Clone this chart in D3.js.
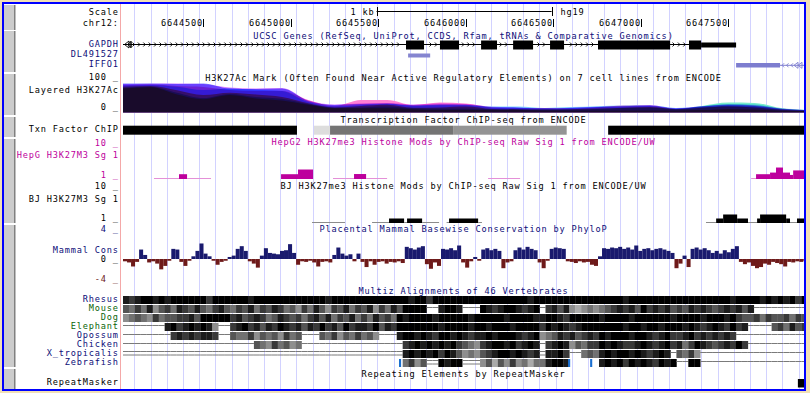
<!DOCTYPE html>
<meta charset="utf-8">
<style>
body { margin: 0; background: #f2e0b5; }
svg { display: block; }
text { font-family: "DejaVu Sans Mono", monospace; font-size: 8.6px; letter-spacing: 0.83px; }
</style>
<svg width="810" height="393"></svg>
<script src="https://d3js.org/d3.v7.min.js"></script>
<script>

// ---- data ----
var viewStart = 6644041, viewEnd = 6647932;
var rulerTicks = [6644500, 6645000, 6645500, 6646000, 6646500, 6647000, 6647500];
var scaleBar = [6645490, 6646490];

var gapdhExons = [[6645658, 6645761], [6645852, 6645961], [6646087, 6646178], [6646270, 6646384],
                  [6646481, 6646561], [6646755, 6647167], [6647275, 6647344]];
var gapdhUtr = [[6647344, 6647544]];
var gapdhSpan = [6644041, 6647275];
var dl491527 = [6645670, 6645796];
var iffo1Utr = [6647544, 6647795];
var iffo1Span = [6647795, 6647932];

var acPos = [6644041, 6644200, 6644350, 6644500, 6644650, 6644800, 6644950, 6645100, 6645250,
             6645400, 6645550, 6645700, 6645850, 6646000, 6646150, 6646300, 6646450, 6646600,
             6646750, 6646900, 6647050, 6647200, 6647350, 6647500, 6647650, 6647800, 6647950];
var acGM12878 = [86, 88, 74, 58, 66, 60, 52, 31, 17, 22, 26, 16, 17, 20, 12, 11, 10, 11, 13, 16, 18, 11, 16, 20, 17, 9, 6];
var acH1      = [80, 84, 60, 44, 58, 47, 40, 26, 14, 14, 14, 11, 9, 9, 8, 8, 7, 7, 7, 7, 7, 7, 8, 12, 10, 6, 5];
var acHSMM    = [82, 86, 66, 48, 62, 52, 46, 28, 16, 17, 20, 14, 13, 13, 11, 11, 10, 10, 12, 15, 16, 12, 22, 33, 32, 15, 9];
var acHUVEC   = [90, 92, 86, 75, 80, 76, 72, 35, 20, 24, 28, 22, 24, 24, 20, 20, 15, 18, 21, 23, 24, 15, 21, 28, 27, 13, 8];
var acK562    = [97, 97, 95, 97, 80, 78, 80, 38, 25, 28, 30, 24, 27, 26, 17, 16, 13, 15, 18, 20, 22, 13, 20, 25, 22, 12, 8];
var acNHEK    = [95, 96, 97, 95, 83, 80, 82, 40, 27, 30, 32, 27, 30, 28, 19, 17, 14, 16, 19, 21, 25, 14, 21, 27, 24, 13, 8];
var acNHLF    = [91, 93, 88, 85, 75, 72, 72, 42, 22, 42, 42, 25, 33, 30, 17, 14, 15, 13, 17, 23, 23, 12, 18, 22, 20, 11, 7];

var tfSegments = [[6644041, 6645035, "#000000"], [6645132, 6645224, "#dddddd"], [6645224, 6645927, "#747474"],
                  [6645927, 6646576, "#949494"], [6646813, 6647932, "#000000"]];

var hepgSignal = [[6644218, 6644361, 0.6], [6644361, 6644407, 2.05], [6644407, 6644544, 0.6],
                  [6644944, 6645041, 2.05], [6645041, 6645127, 3.35],
                  [6645241, 6645361, 0.6], [6645361, 6645430, 2.1], [6645430, 6645550, 0.6],
                  [6646127, 6646310, 0.6],
                  [6647630, 6647658, 0.6], [6647658, 6647738, 2.05], [6647738, 6647772, 2.5], [6647772, 6647812, 3.9],
                  [6647812, 6647852, 2.5], [6647852, 6647870, 1.85], [6647870, 6647932, 3.1]];

var bjSignal = [[6645121, 6645310, 0.6],
                [6645464, 6645561, 0.6], [6645561, 6645647, 1.97], [6645647, 6645664, 0.6], [6645664, 6645750, 1.97], [6645750, 6645847, 0.6],
                [6645890, 6645904, 0.6], [6645904, 6646070, 1.97], [6646070, 6646092, 0.6],
                [6647372, 6647430, 0.6], [6647430, 6647470, 1.97], [6647470, 6647550, 3.08], [6647550, 6647612, 1.97],
                [6647612, 6647664, 0.6], [6647664, 6647681, 1.97], [6647681, 6647830, 3.08], [6647830, 6647852, 1.97],
                [6647852, 6647892, 0.6], [6647892, 6647932, 1.97]];

var consStart = 6644041, consStep = 23;
var consValues = [
  -0.4, -0.6, -1.3, -0.5, 1.4, 0.6, -0.6, -0.4, -0.8, -1.8,
  -1.2, -0.3, 1.5, 1.4, -0.5, -1.2, -0.3, 0.4, 1.2, 2.3,
  0.8, 0.4, -0.3, -1.0, -0.5, -0.3, 0.3, 0.5, 1.5, 1.9,
  1.2, -0.4, -0.8, -1.5, 0.5, 1.6, 0.9, 0.8, 0.7, 1.2,
  1.3, 2.2, 0.9, -1.0, -0.4, -0.5, -0.3, -0.6, -1.3, -0.5,
  -0.4, -0.6, 0.6, 1.7, 0.8, 0.5, 0.7, -0.4, 0.8, -0.5,
  -1.4, -0.4, -1.0, -0.5, -0.4, -0.8, -0.5, -0.6, -0.4, -0.7,
  1.8, 1.6, 1.4, 1.7, 1.9, -0.9, -1.7, -0.6, -1.2, 1.5,
  1.4, 1.6, 1.3, 2.0, -0.6, -1.5, -0.4, 0.3, -0.3, 1.4,
  1.6, 1.3, 1.5, 1.2, -1.6, -0.6, -0.4, 1.3, 1.7, 1.4,
  1.8, 1.5, 1.3, -0.6, -1.6, -0.3, 1.5, 1.7, 1.6, 1.5,
  -0.4, -0.5, -0.7, -0.4, -0.6, -0.5, -1.0, -1.2, 0.4, 1.6,
  1.5, 1.7, 1.6, 1.8, 1.5, 1.7, 1.4, 2.0, 1.2, 1.5,
  1.6, 1.3, 1.5, 1.6, 1.4, 1.2, 0.9, -1.6, -0.8, 0.5,
  -1.4, 1.5, 1.7, 1.4, 1.6, 1.3, 0.9, 1.2, 0.8, 1.3,
  1.0, 1.5, 1.9, -0.5, -0.9, -0.6, -1.2, -1.6, -1.4, -0.8,
  -1.0, -0.5, -0.7, -0.9, -1.3, -0.5, -0.6, -0.4, -0.5, -0.3];

// multiz: one char per 34 bp bin; 1-9 = alignment darkness, "-" gap line, "=" double line, "." nothing
var multizStart = 6644041, multizBin = 34;
var species = ["Rhesus", "Mouse", "Dog", "Elephant", "Opossum", "Chicken", "X_tropicalis", "Zebrafish"];
var speciesColors = ["#0c0c78", "#0a640a", "#0a640a", "#0a640a", "#0c0c78", "#0c0c78", "#0c0c78", "#0c0c78"];
var multizRows = [
  "8789989899" + "9999799999" + "9899999999" + "9999899999" + "9999999989" + "9799999999" + "9999999989" + "9999999999" + "9999899999" + "9999999999" + "9989999898" + "98979",
  "6575846758" + "7686578657" + "6857687564" + "7586476857" + "6847586999" + "9--8998---" + "9878998789" + "-786843454" + "5678786978" + "7867687876" + "787868----" + "-----",
  "4565475667" + "7869999978" + "6787568767" + "5786857685" + "7586759899" + "9989999989" + "9999899998" + "8998799999" + "8999989999" + "9989999899" + "9897667576" + "67576",
  "-------897" + "898984--78" + "9786879878" + "6879786978" + "8796879999" + "9998999989" + "9899989999" + "7989878999" + "9999899899" + "8999898789" + "87978----6" + "75867",
  "--------78" + "787887--65" + "5746564756" + "---6574657" + "564---8998" + "9879989878" + "8989998789" + "4568786787" + "9899989987" + "8977897878" + "787-------" + "-----",
  "----------" + "----------" + "--65475645" + "----------" + "-------789" + "8989897654" + "7899897898" + "-789846577" + "9898778987" + "8978579876" + "78797-----" + "-----",
  "==========" + "==========" + "==========" + "==========" + "=======898" + "9897986454" + "6789989878" + "=8897--565" + "8989989878" + "98-6574---" + "----------" + "-----",
  ".........." + ".........." + ".........." + ".........." + ".......574" + "6==9899===" + "4636474535" + "58998....." + "8989798987" + "989--99---" + "----------" + "-----"];
var zebrafishMarks = [[6645618, 6645630], [6646584, 6646596], [6646710, 6646722]];

var repeats = [[6647897, 6647932]];

// ---- drawing ----
var svg = d3.select("svg");
var left = 123, right = 804, mid = 463.5, labelX = 118.8;
var x = d3.scaleLinear().domain([viewStart, viewEnd]).range([left, right]);

svg.append("rect").attr("width", 810).attr("height", 393).attr("fill", "#f2e0b5");
svg.append("rect").attr("x", 3).attr("y", 3).attr("width", 802).attr("height", 387).attr("fill", "#fff");

svg.append("defs").append("clipPath").attr("id", "clip")
  .append("rect").attr("x", left).attr("y", 4).attr("width", right - left).attr("height", 385);

// guide lines
svg.append("g").selectAll("line").data(d3.range(134.3, right, 16.2)).enter().append("line")
    .attr("x1", function(d) { return Math.round(d) + 0.5; })
    .attr("x2", function(d) { return Math.round(d) + 0.5; })
    .attr("y1", 4).attr("y2", 389)
    .attr("stroke", "#d2d2ff");

svg.append("line").attr("x1", 120.5).attr("x2", 120.5).attr("y1", 4).attr("y2", 389).attr("stroke", "#f4a8a8");

// side buttons
var buttons = [[5, 30], [31, 72], [74, 115], [117, 137], [139, 223], [225, 367], [369, 389]];
buttons.forEach(function(b) {
  svg.append("rect").attr("x", 4).attr("y", b[0]).attr("width", 11).attr("height", b[1] - b[0]).attr("fill", "#cccccc");
  svg.append("rect").attr("x", 14).attr("y", b[0]).attr("width", 1.5).attr("height", b[1] - b[0]).attr("fill", "#808080");
});

svg.append("rect").attr("x", 3).attr("y", 3).attr("width", 802).attr("height", 387)
    .attr("fill", "none").attr("stroke", "#0000ff").attr("stroke-width", 2);

function label(txt, y, color) {
  svg.append("text").attr("x", labelX).attr("y", y).attr("text-anchor", "end")
     .attr("fill", color || "#000").text(txt);
}
function title(txt, y, color) {
  svg.append("text").attr("x", mid).attr("y", y).attr("text-anchor", "middle")
     .attr("fill", color || "#000").text(txt);
}

var data = svg.append("g").attr("clip-path", "url(#clip)");

// ruler
label("Scale", 15);
label("chr12:", 26);
svg.append("line").attr("x1", x(scaleBar[0])).attr("x2", x(scaleBar[1])).attr("y1", 11.5).attr("y2", 11.5).attr("stroke", "#000");
scaleBar.forEach(function(p) {
  svg.append("line").attr("x1", Math.round(x(p)) + 0.5).attr("x2", Math.round(x(p)) + 0.5).attr("y1", 7).attr("y2", 16).attr("stroke", "#000");
});
svg.append("text").attr("x", x(scaleBar[0]) - 2).attr("y", 15).attr("text-anchor", "end").text("1 kb");
svg.append("text").attr("x", x(scaleBar[1]) + 9).attr("y", 15).text("hg19");
rulerTicks.forEach(function(t) {
  var tx = Math.round(x(t)) + 0.5;
  svg.append("line").attr("x1", tx).attr("x2", tx).attr("y1", 19).attr("y2", 27).attr("stroke", "#000");
  svg.append("text").attr("x", tx - 0.5).attr("y", 26).attr("text-anchor", "end").text(d3.format("d")(t));
});

// genes
var navy = "#0c0c78";
title("UCSC Genes (RefSeq, UniProt, CCDS, Rfam, tRNAs & Comparative Genomics)", 38.5, navy);
label("GAPDH", 46.5, navy);
label("DL491527", 56.5, navy);
label("IFFO1", 66.5, navy);

var gy = 44.5;
data.append("line").attr("x1", x(gapdhSpan[0])).attr("x2", x(gapdhSpan[1])).attr("y1", gy).attr("y2", gy).attr("stroke", "#000");
var gapdhBlocks = gapdhExons.concat(gapdhUtr);
d3.range(134, x(gapdhSpan[1]), 5.4).forEach(function(cx) {
  var inside = gapdhBlocks.some(function(e) { return cx > x(e[0]) - 3 && cx < x(e[1]) + 3; });
  if (inside) return;
  data.append("path").attr("d", "M" + (cx - 1.5) + "," + (gy - 2) + "L" + (cx + 0.5) + "," + gy + "L" + (cx - 1.5) + "," + (gy + 2))
      .attr("fill", "none").attr("stroke", "#000").attr("stroke-width", 0.9);
});
// continuation marker at the left edge
data.append("path").attr("d", "M124.5,44.5L129,41L129,48Z M127.5,44.5L131,41.5L131,47.5Z")
    .attr("fill", "none").attr("stroke", "#000").attr("stroke-width", 0.9);
data.append("line").attr("x1", 131).attr("x2", 131).attr("y1", 41).attr("y2", 48).attr("stroke", "#000");
data.selectAll(".exon").data(gapdhExons).enter().append("rect")
    .attr("x", function(d) { return x(d[0]); }).attr("width", function(d) { return x(d[1]) - x(d[0]); })
    .attr("y", 40.5).attr("height", 9).attr("fill", "#000");
data.selectAll(".utr").data(gapdhUtr).enter().append("rect")
    .attr("x", function(d) { return x(d[0]); }).attr("width", function(d) { return x(d[1]) - x(d[0]); })
    .attr("y", 42.5).attr("height", 5).attr("fill", "#000");

data.append("rect").attr("x", x(dl491527[0])).attr("width", x(dl491527[1]) - x(dl491527[0]))
    .attr("y", 53.5).attr("height", 4).attr("fill", "#8585d0");

data.append("rect").attr("x", x(iffo1Utr[0])).attr("width", x(iffo1Utr[1]) - x(iffo1Utr[0]))
    .attr("y", 63).attr("height", 4.5).attr("fill", "#7d7dcf");
data.append("line").attr("x1", x(iffo1Span[0])).attr("x2", x(iffo1Span[1])).attr("y1", 65.3).attr("y2", 65.3).attr("stroke", "#7d7dcf");
d3.range(x(iffo1Span[0]) + 3, 794, 4.5).forEach(function(cx) {
  data.append("path").attr("d", "M" + (cx + 1) + "," + 63.3 + "L" + (cx - 1) + "," + 65.3 + "L" + (cx + 1) + "," + 67.3)
      .attr("fill", "none").attr("stroke", "#7d7dcf").attr("stroke-width", 0.9);
});
data.append("path").attr("d", "M794,65.3L798,62.3L798,68.3Z M798,65.3L802,62.3L802,68.3Z")
    .attr("fill", "none").attr("stroke", "#7d7dcf").attr("stroke-width", 0.9);

// layered H3K27Ac
label("100 _", 80);
label("Layered H3K27Ac", 93.3);
label("0 _", 110);
var yAc = d3.scaleLinear().domain([0, 100]).range([112.5, 82.5]);
var acSeries = [
  {values: acH1, color: "rgb(255,212,128)"},
  {values: acGM12878, color: "rgb(255,128,128)"},
  {values: acHSMM, color: "rgb(120,235,204)"},
  {values: acHUVEC, color: "rgb(128,212,255)"},
  {values: acNHLF, color: "rgb(255,128,212)"},
  {values: acNHEK, color: "rgb(212,128,255)"},
  {values: acK562, color: "rgb(128,128,255)"}];
var acArea = d3.area()
    .x(function(d, i) { return x(acPos[i]); })
    .y0(yAc(0)).y1(function(d) { return yAc(d); })
    .curve(d3.curveMonotoneX);
var acG = data.append("g");
acSeries.forEach(function(s) {
  acG.append("path").attr("d", acArea(s.values)).attr("fill", s.color).style("mix-blend-mode", "multiply");
});
title("H3K27Ac Mark (Often Found Near Active Regulatory Elements) on 7 cell lines from ENCODE", 80.5);

// TF ChIP
label("Txn Factor ChIP", 131.7);
title("Transcription Factor ChIP-seq from ENCODE", 123);
data.selectAll(".tf").data(tfSegments).enter().append("rect")
    .attr("x", function(d) { return x(d[0]); }).attr("width", function(d) { return x(d[1]) - x(d[0]); })
    .attr("y", 125.7).attr("height", 9).attr("fill", function(d) { return d[2]; });

// signal tracks
function drawSignal(sig, yS, full, low) {
  sig.forEach(function(d) {
    if (d[2] < 1) {
      data.append("line").attr("x1", x(d[0])).attr("x2", x(d[1])).attr("y1", yS(1) + 0.5).attr("y2", yS(1) + 0.5).attr("stroke", low);
    } else {
      data.append("rect").attr("x", x(d[0])).attr("width", x(d[1]) - x(d[0]))
          .attr("y", yS(d[2])).attr("height", yS(1) + 1 - yS(d[2])).attr("fill", full);
    }
  });
}
var magenta = "#bd009d";
label("10 _", 145.5, magenta);
label("HepG H3K27M3 Sg 1", 158.3, magenta);
label("1 _", 177.5, magenta);
title("HepG2 H3K27me3 Histone Mods by ChIP-seq Raw Sig 1 from ENCODE/UW", 145, magenta);
drawSignal(hepgSignal, d3.scaleLinear().domain([1, 10]).range([178, 145.5]), magenta, "#e490d8");

label("10 _", 188.5);
label("BJ H3K27M3 Sg 1", 202);
label("1 _", 220.5);
title("BJ H3K27me3 Histone Mods by ChIP-seq Raw Sig 1 from ENCODE/UW", 188.5);
drawSignal(bjSignal, d3.scaleLinear().domain([1, 10]).range([222, 189.5]), "#000", "#8c8c8c");

// conservation
var brown = "#6e1a1a";
label("4 _", 232.3, navy);
label("Mammal Cons", 253.3, navy);
label("0 _", 261.8);
label("-4 _", 282.3, brown);
title("Placental Mammal Basewise Conservation by PhyloP", 232, navy);
var yCons = d3.scaleLinear().domain([-4, 0, 4]).range([282, 259, 232]);
data.selectAll(".cons").data(consValues).enter().append("rect")
    .attr("x", function(d, i) { return x(consStart + i * consStep); })
    .attr("width", function(d, i) { return x(consStart + (i + 1) * consStep) - x(consStart + i * consStep); })
    .attr("y", function(d) { return d > 0 ? yCons(d) : yCons(0); })
    .attr("height", function(d) { return Math.abs(yCons(d) - yCons(0)); })
    .attr("fill", function(d) { return d > 0 ? "#1a1a6e" : brown; });

// multiz
title("Multiz Alignments of 46 Vertebrates", 293.5, navy);
var gray = d3.scaleLinear().domain([0, 9]).range(["#ffffff", "#000000"]);
species.forEach(function(sp, r) {
  var top = 296 + 9 * r;
  label(sp, top + 5.7, speciesColors[r]);
  multizRows[r].split("").forEach(function(c, j) {
    var x0 = x(multizStart + j * multizBin), x1 = x(multizStart + (j + 1) * multizBin);
    if (c === "-") {
      data.append("line").attr("x1", x0).attr("x2", x1).attr("y1", top + 2.5).attr("y2", top + 2.5).attr("stroke", "#7a7a7a");
    } else if (c === "=") {
      [top + 1.5, top + 5].forEach(function(ly) {
        data.append("line").attr("x1", x0).attr("x2", x1).attr("y1", ly).attr("y2", ly).attr("stroke", "#7a7a7a");
      });
    } else if (c !== ".") {
      data.append("rect").attr("x", x0).attr("width", x1 - x0 + 0.3).attr("y", top).attr("height", 8).attr("fill", gray(+c));
    }
  });
});
data.selectAll(".zmark").data(zebrafishMarks).enter().append("rect")
    .attr("x", function(d) { return x(d[0]); }).attr("width", function(d) { return x(d[1]) - x(d[0]); })
    .attr("y", 296 + 9 * 7).attr("height", 8).attr("fill", "#1a6fd0");

// repeats
label("RepeatMasker", 385);
title("Repeating Elements by RepeatMasker", 377);
data.selectAll(".rep").data(repeats).enter().append("rect")
    .attr("x", function(d) { return x(d[0]); }).attr("width", function(d) { return x(d[1]) - x(d[0]); })
    .attr("y", 379).attr("height", 8.5).attr("fill", "#000");

</script>
